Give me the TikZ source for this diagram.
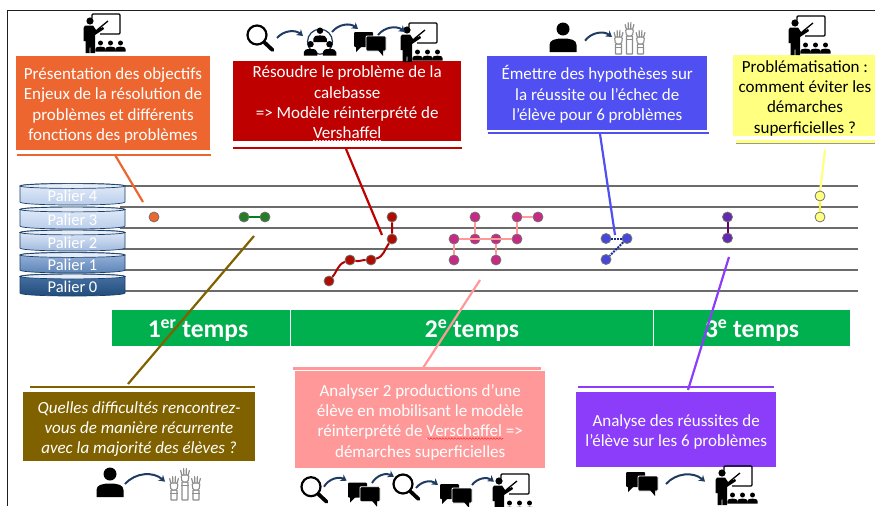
\documentclass[tikz,border=0pt]{standalone}
\usepackage{fontspec}
\setmainfont{Carlito}
\usetikzlibrary{arrows.meta,decorations.pathmorphing}
\definecolor{framegrey}{rgb}{0.12, 0.12, 0.12}
\definecolor{levelgrey}{rgb}{0.42, 0.42, 0.42}
\definecolor{bargreen}{rgb}{0.0, 0.69, 0.31}
\definecolor{arrowblue}{rgb}{0.12, 0.23, 0.39}
\definecolor{orangebox}{rgb}{0.93, 0.40, 0.19}
\definecolor{redbox}{rgb}{0.75, 0.0, 0.0}
\definecolor{bluebox}{rgb}{0.31, 0.31, 0.95}
\definecolor{yellowbox}{rgb}{1.0, 1.0, 0.5}
\definecolor{brownbox}{rgb}{0.5, 0.38, 0.0}
\definecolor{pinkbox}{rgb}{1.0, 0.6, 0.6}
\definecolor{purplebox}{rgb}{0.55, 0.24, 0.98}
\definecolor{palierA}{rgb}{0.90, 0.93, 0.98}
\definecolor{palierB}{rgb}{0.72, 0.80, 0.92}
\definecolor{palierC}{rgb}{0.62, 0.72, 0.87}
\definecolor{palierD}{rgb}{0.35, 0.51, 0.71}
\definecolor{palierE}{rgb}{0.29, 0.46, 0.66}
\definecolor{palierF}{rgb}{0.12, 0.29, 0.47}
\newcommand{\boxstrut}{\rule{0pt}{17pt}}
\tikzset{
  textbox/.style={minimum width=#1, align=center, inner sep=0pt, text=white,
    font=\fontsize{17}{20.3}\selectfont},
  levelline/.style={levelgrey, line width=1.6pt},
  iconarrow/.style={arrowblue, line width=2pt, -{Stealth[length=6pt,width=7.5pt]}, bend left=45},
  stagedot/.style={circle, draw=black!55, line width=0.8pt, fill=#1, minimum size=10pt, inner sep=0pt},
  stagelink/.style={line width=2pt},
  pics/bust/.style={code={
    \fill (0,0) circle (6.5);
    \fill (-13.5,23) -- (-13.5,16) .. controls (-13.5,11) and (-8,9.5) .. (0,9.5)
      .. controls (8,9.5) and (13.5,11) .. (13.5,16) -- (13.5,23) -- cycle;
  }},
  pics/teacher/.style={code={
    \draw[line width=1.3pt, rounded corners=1pt] (10,5) -- (10,1) -- (38,1) -- (38,21) -- (18,21);
    \draw[line width=1.3pt] (15,17) -- (26,8);
    \fill (8,8) circle (3.6);
    \fill (3,12.5) -- (11,12.5) -- (14,17) -- (21,14) -- (22,16) -- (13,22) -- (13,40) -- (8.5,40)
      -- (8,29) -- (7.5,40) -- (3.5,40) -- (3.5,28) -- (1.5,28) -- (1.5,15) -- cycle;
    \foreach \px in {18.5,28.5,38.5}
      \pic[scale=0.38] at (\px,30) {bust};
  }},
  pics/magnifier/.style={code={
    \draw[line width=2.2pt] (0,0) circle (9.5);
    \draw[line width=3.8pt, line cap=round] (7.5,7.5) -- (15.5,15);
  }},
  pics/bubbles/.style={code={
    \fill[rounded corners=1pt] (0,0) rectangle (19,15);
    \fill (2,14) -- (2,20) -- (8,14) -- cycle;
    \filldraw[draw=white, line width=0.8pt, rounded corners=1pt] (12,4) rectangle (32,19);
    \fill (24,18) -- (29,24) -- (29,18) -- cycle;
  }},
  pics/group/.style={code={
    \draw[arrowblue, line width=1.2pt] (0,0) circle (12.5);
    \pic[scale=0.5] at (0,-11) {bust};
    \pic[scale=0.5] at (-9.5,2.5) {bust};
    \pic[scale=0.5] at (9.5,2.5) {bust};
  }},
  pics/hands/.style={code={
    \foreach \hx/\hy in {6/8,17/0,28/8} {
      \draw[black!45, line width=1.1pt, rounded corners=0.5pt] (\hx-3,\hy+14) rectangle (\hx+3,32);
      \draw[black!45, line width=1pt] (\hx-3.6,\hy+17) -- (\hx+3.6,\hy+17);
      \draw[black!45, line width=1.1pt, rounded corners=1.5pt, fill=white]
        (\hx-3,\hy+14) -- (\hx-4,\hy+7) -- (\hx+4,\hy+7) -- (\hx+3,\hy+14) -- cycle;
      \draw[black!45, line width=1.2pt, line cap=round] (\hx-3.2,\hy+7) -- (\hx-4.4,\hy+2.5);
      \draw[black!45, line width=1.2pt, line cap=round] (\hx-1.1,\hy+7) -- (\hx-1.4,\hy+0.5);
      \draw[black!45, line width=1.2pt, line cap=round] (\hx+1.1,\hy+7) -- (\hx+1.4,\hy+0.5);
      \draw[black!45, line width=1.2pt, line cap=round] (\hx+3.2,\hy+7) -- (\hx+4.4,\hy+2.5);
    }
  }},
}

\begin{document}
\begin{tikzpicture}[x=1pt,y=-1pt]
  \clip (0,0) rectangle (875,506);
  \coordinate (frameA) at (7.5,506);
  \coordinate (frameB) at (7.5,10.5);
  \coordinate (frameC) at (875,10.5);
  \draw [framegrey, line width=1.6pt] (frameA) -- (frameB) -- (frameC);

  \foreach \n/\y in {4/186,3/207,2/228,1/249,0/270,9/291}
  {
    \coordinate (startlevel\n) at (120,\y);
    \coordinate (endlevel\n) at (857.5,\y);
    \draw [levelline] (startlevel\n) -- (endlevel\n);
  }

  % paliers
  \foreach \n/\ctop/\cbot/\ya/\yb in
  {
    4/palierA/palierB/183.5/205,
    3/palierA/palierB/207/229,
    2/palierA/palierC/230/251,
    1/palierC/palierD/252.5/273,
    0/palierE/palierF/274/296
  }
  {
    \draw [draw=palierF!85!black, line width=0.7pt, top color=\ctop, bottom color=\cbot]
      (20,\ya+2.5) -- (20,\yb-3) .. controls (20,\yb+1) and (125,\yb+1) .. (125,\yb-3) -- (125,\ya+2.5)
      .. controls (125,\ya-1) and (20,\ya-1) .. (20,\ya+2.5) -- cycle;
    \draw [draw=palierF!85!black, line width=0.7pt, fill=palierA] (72.5,\ya+2.5) ellipse (52.5 and 2.4);
    \node [text=white, font=\fontsize{16.5}{16.5}\selectfont] (palier\n) at (72.5,\ya/2+\yb/2+2) {Palier \n};
  }

  % temps
  \fill [bargreen] (112,310) rectangle (850,346);
  \coordinate (sepA) at (290.5,310);
  \coordinate (sepB) at (653.5,310);
  \draw [white, line width=0.8pt] (sepA) -- +(0,36);
  \draw [white, line width=0.8pt] (sepB) -- +(0,36);
  \foreach \n/\x/\num/\sup in {one/198/1/er,two/472/2/e,three/752/3/e}
    \node [text=white, font=\fontsize{25.5}{25.5}\selectfont\bfseries] (temps\n) at (\x,331) {\num\textsuperscript{\sup} temps};

  % boites
  \node [textbox=194pt, minimum height=94pt, fill=orangebox] (orangetext) at (113,103)
    {\boxstrut Présentation des objectifs\\Enjeux de la résolution de\\problèmes et différents\\fonctions des problèmes};
  \node [textbox=227.5pt, minimum height=77.5pt, fill=redbox] (redtext) at (347.2,100.8)
    {\boxstrut Résoudre le problème de la\\calebasse\\=> Modèle réinterprété de\\\underline{Vershaffel}};
  \node [textbox=219.5pt, minimum height=74pt, fill=bluebox] (bluetext) at (597.2,93)
    {\boxstrut Émettre des hypothèses sur\\la réussite ou l’échec de\\l’élève pour 6 problèmes};
  \node [textbox=145pt, minimum height=81pt, fill=yellowbox, text=black] (yellowtext) at (805,95.5)
    {\boxstrut Problématisation :\\comment éviter les\\démarches\\superficielles ?};
  \node [textbox=232pt, minimum height=69pt, fill=brownbox, font=\fontsize{17}{20.3}\selectfont\itshape] (browntext) at (139,426.5)
    {\boxstrut Quelles difficultés rencontrez-\\vous de manière récurrente\\avec la majorité des élèves ?};
  \node [textbox=250.5pt, minimum height=97.5pt, fill=pinkbox] (pinktext) at (420.2,419.5)
    {\boxstrut Analyser 2 productions d’une\\élève en mobilisant le modèle\\réinterprété de \underline{Verschaffel} =>\\démarches superficielles};
  \node [textbox=199.5pt, minimum height=75pt, fill=purplebox] (purpletext) at (676.2,429.5)
    {\boxstrut Analyse des réussites de\\l’élève sur les 6 problèmes};

  \coordinate (wavyA) at (313,140);
  \coordinate (wavyB) at (383,140);
  \coordinate (wavyC) at (427,438.5);
  \coordinate (wavyD) at (503,438.5);
  \draw [red!80!black, line width=0.5pt, decorate, decoration={snake,amplitude=0.7pt,segment length=3pt}] (wavyA) -- (wavyB);
  \draw [red, line width=0.5pt, decorate, decoration={snake,amplitude=0.7pt,segment length=3pt}] (wavyC) -- (wavyD);

  % traits sous les boites
  \coordinate (shadowA) at (736,142.8);
  \coordinate (shadowB) at (875,142.8);
  \draw [black!40, line width=1.5pt] (shadowA) -- (shadowB);
  \foreach \n/\col/\xa/\xb/\y in
  {
    orange/orangebox/17/211/155,
    red/redbox/233/462/148,
    blue/bluebox/488/709/133,
    yellow/yellowbox/736/875/141.5,
    brown/brownbox/30/255/387,
    pink/pinkbox/293/541/368.5,
    purple/purplebox/578/774/387
  }
  {
    \coordinate (\n ruleA) at (\xa,\y);
    \coordinate (\n ruleB) at (\xb,\y);
    \draw [\col, line width=2.4pt] (\n ruleA) -- (\n ruleB);
  }

  % renvois
  \foreach \n/\col/\xa/\ya/\xb/\yb in
  {
    orange/orangebox/115/155/143/202,
    red/redbox/346/149/382/235,
    blue/bluebox/600/134/615/235,
    yellow/yellowbox/825/150/820/192,
    brown/brownbox/254/236/128/384,
    pink/pinkbox/480/280/423/368,
    purple/purplebox/729/257/688/390
  }
  {
    \coordinate (\n callA) at (\xa,\ya);
    \coordinate (\n callB) at (\xb,\yb);
    \draw [\col, line width=2.2pt] (\n callA) -- (\n callB);
  }

  % parcours
  \node [stagedot=orangebox] (orangeA) at (154,217) {};
  \node [stagedot=green!40!black!85] (greenA) at (244,217) {};
  \node [stagedot=green!40!black!85] (greenB) at (265,217) {};
  \draw [stagelink, green!45!black!90!cyan] (greenA) -- (greenB);

  \foreach \n/\x/\y in {A/329/281,B/350/260,C/371/260,D/392/239,E/392/217}
    \node [stagedot=red!65!black!90!orange] (dred\n) at (\x,\y) {};
  \draw [stagelink, red!70!black] (dredA) to [out=50,in=200] (dredB) to [out=-10,in=180] (dredC)
    to [out=15,in=235] (dredD) to [out=90,in=-90] (dredE);

  \foreach \n/\x/\y in {A/454/260,B/454/239,C/475/239,D/475/217,E/496/239,F/496/260,G/517/239,H/517/217,I/538/217}
    \node [stagedot=magenta!80!black] (dpink\n) at (\x,\y) {};
  \draw [stagelink, pinkbox] (dpinkA) -- (dpinkB);
  \draw [stagelink, pinkbox] (dpinkB) -- (dpinkG);
  \draw [stagelink, pinkbox] (dpinkC) -- (dpinkD);
  \draw [stagelink, pinkbox] (dpinkE) -- (dpinkF);
  \draw [stagelink, pinkbox] (dpinkG) -- (dpinkH);
  \draw [stagelink, pinkbox] (dpinkH) -- (dpinkI);

  \foreach \n/\x/\y in {A/606/238.5,B/627/238.5,C/606/259.5}
    \node [stagedot=bluebox!90!black] (dblue\n) at (\x,\y) {};
  \draw [stagelink, densely dotted, arrowblue!70!blue] (dblueA) -- (dblueB);
  \draw [stagelink, densely dotted, arrowblue!70!blue] (dblueB) -- (dblueC);

  \node [stagedot=purplebox!70!black] (dpurpleA) at (727.5,217) {};
  \node [stagedot=purplebox!70!black] (dpurpleB) at (727.5,238) {};
  \draw [stagelink, violet!80!black] (dpurpleA) -- (dpurpleB);

  \node [stagedot=yellowbox] (dyellowA) at (820,196) {};
  \node [stagedot=yellowbox] (dyellowB) at (820,217) {};
  \draw [stagelink, yellow!80!white] (dyellowA) -- (dyellowB);

  % icones
  \foreach \x/\y in {82/13,399/22,787/15,714/465,491/473}
    \pic at (\x,\y) {teacher};
  \foreach \x/\y in {257/35,311/486.7,403/484}
    \pic at (\x,\y) {magnifier};
  \foreach \x/\y in {354/32,348/482.7,440/484,626/472}
    \pic at (\x,\y) {bubbles};
  \foreach \x/\y in {563/29,110/474}
    \pic at (\x,\y) {bust};
  \foreach \x/\y in {612.5/22,168/468}
    \pic at (\x,\y) {hands};
  \pic at (320,41.7) {group};

  \foreach \n/\xa/\ya/\xb/\yb in
  {
    a/277/38/303/36,
    b/332/32/358/29,
    c/378/35/405/32,
    d/585/40.7/612/37,
    e/125/484/165/481.7,
    f/324/486.7/346.7/480.7,
    g/372/483/394/476.7,
    h/416/488/438/485,
    i/472/485/494/481.7,
    j/666/484/705/481.7
  }
  {
    \coordinate (arrow\n A) at (\xa,\ya);
    \coordinate (arrow\n B) at (\xb,\yb);
    \draw [iconarrow] (arrow\n A) to (arrow\n B);
  }
\end{tikzpicture}
\end{document}
